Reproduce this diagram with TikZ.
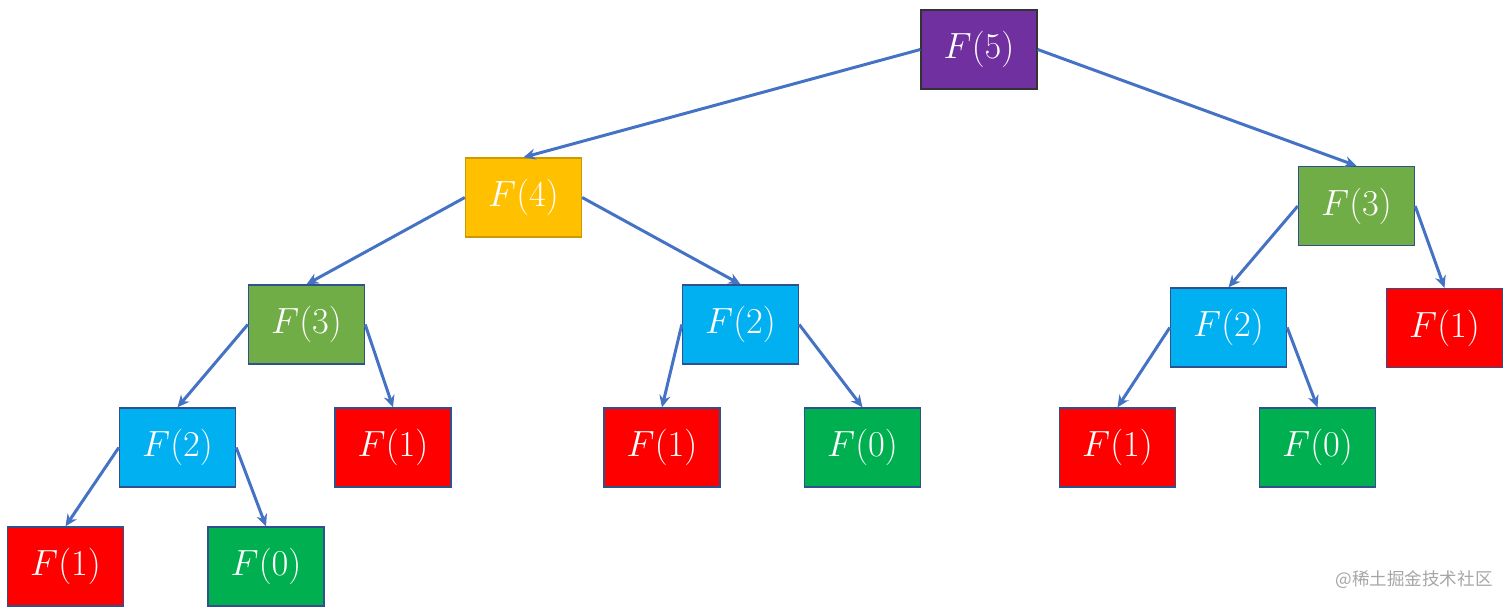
\documentclass[tikz,border=0pt]{standalone}
\usepackage{fontspec}
\newfontfamily\cjk{Noto Sans CJK SC}
\usepackage{tikz}
\usetikzlibrary{arrows.meta}

\definecolor{callpurple}{HTML}{7030A0}
\definecolor{callgold}{HTML}{FFC000}
\definecolor{callolive}{HTML}{70AD47}
\definecolor{callblue}{HTML}{00B0F0}
\definecolor{callred}{HTML}{FF0000}
\definecolor{callgreen}{HTML}{00B050}
\definecolor{frame}{HTML}{2F528F}
\definecolor{edge}{HTML}{4472C4}

\begin{document}
\begin{tikzpicture}[
        x=0.02cm, y=-0.02cm,
        call/.style={draw=frame, line width=0.8pt, minimum width=2.32cm, minimum height=1.58cm,
            inner sep=0pt, anchor=center, text=white, font=\huge},
        call5/.style={call, fill=callpurple, draw=black!80},
        call4/.style={call, fill=callgold, draw=callgold!80!black},
        call3/.style={call, fill=callolive},
        call2/.style={call, fill=callblue},
        call1/.style={call, fill=callred},
        call0/.style={call, fill=callgreen},
        recur/.style={draw=edge, line width=1.7pt, -{Stealth[length=0.24cm, width=0.22cm]}}
    ]
    \useasboundingbox (0,0) rectangle (1512,609);

    % Calls
    \node[call5] (f5)  at (979, 49.5)   {$F(5)$};
    \node[call4] (f4)  at (523.5, 197.5) {$F(4)$};
    \node[call3] (f3r) at (1356.5, 206)  {$F(3)$};
    \node[call3] (f3l) at (306.5, 324.5) {$F(3)$};
    \node[call2] (f2m) at (740.5, 324.5) {$F(2)$};
    \node[call2] (f2r) at (1228.5, 327.5) {$F(2)$};
    \node[call1] (f1r) at (1444.5, 328)  {$F(1)$};
    \node[call2] (f2l) at (177.5, 447.5) {$F(2)$};
    \node[call1] (f1a) at (393, 447.5)   {$F(1)$};
    \node[call1] (f1b) at (662, 447.5)   {$F(1)$};
    \node[call0] (f0a) at (862.5, 447.5) {$F(0)$};
    \node[call1] (f1c) at (1117.5, 447.5) {$F(1)$};
    \node[call0] (f0b) at (1317.5, 447.5) {$F(0)$};
    \node[call1] (f1d) at (65.5, 566.5)  {$F(1)$};
    \node[call0] (f0c) at (266, 566.5)   {$F(0)$};

    % Recursion
    \foreach \parent/\lkid/\rkid in {f5/f4/f3r, f4/f3l/f2m, f3l/f2l/f1a, f2l/f1d/f0c,
                                     f2m/f1b/f0a, f3r/f2r/f1r, f2r/f1c/f0b} {
        \draw[recur] (\parent.west) -- (\lkid.north);
        \draw[recur] (\parent.east) -- (\rkid.north);
    }

    % Watermark
    \node[text=black!35, font=\cjk\fontsize{10}{12}\selectfont, anchor=east, inner sep=0pt] (mark) at (1493, 580) {@稀土掘金技术社区};

\end{tikzpicture}
\end{document}
